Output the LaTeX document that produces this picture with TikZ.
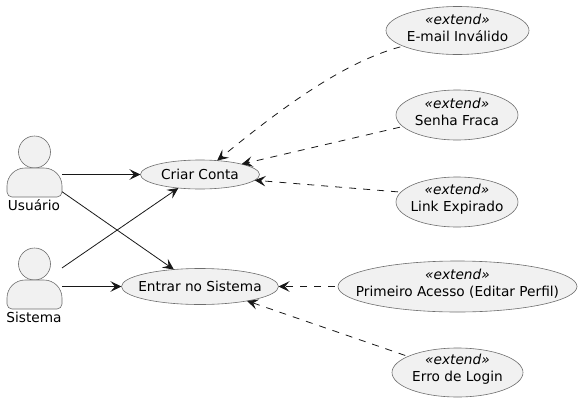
\documentclass[tikz,border=0pt]{standalone}
\usepackage{fontspec}
\setmainfont{DejaVu Sans}
\usetikzlibrary{arrows.meta,shapes.geometric}

\definecolor{casefill}{HTML}{F1F1F1}
\definecolor{caseline}{HTML}{6E6E6E}
\definecolor{linkline}{HTML}{181818}

\tikzset{
  usecase/.style={draw=caseline,fill=casefill,shape=ellipse,inner sep=0pt,outer sep=0pt,line width=0.6pt},
  casetext/.style={inner sep=0pt,align=center,font=\fontsize{13.7}{17}\selectfont},
  extendtext/.style={casetext,yshift=3pt},
  actorbox/.style={shape=rectangle,minimum width=55pt,minimum height=76pt,inner sep=0pt,outer sep=0pt},
  actorpart/.style={draw=caseline,fill=casefill,line width=0.6pt},
  opentip/.style={-{Stealth[length=11pt,width=10.5pt,inset=4.5pt]}},
  solidlink/.style={opentip,color=linkline,line width=0.8pt},
  extendlink/.style={opentip,color=linkline,line width=0.8pt,dash pattern=on 7pt off 7pt,shorten <=3pt}
}

\newcommand{\stereo}{\textit{«extend»}}

\begin{document}
\begin{tikzpicture}[x=1pt,y=-1pt]
\useasboundingbox (0,0) rectangle (581,402);

% actors
\path (34.5,174.5) node[actorbox] (Usr) {};
\path (34.5,152) node[actorpart,shape=circle,minimum size=32pt,inner sep=0pt] (UsrHead) {};
\path[actorpart] (34.5,197) [rounded corners=5pt] -- (7,197) [rounded corners=18pt] -- (7,168) -- (62,168) [rounded corners=5pt] -- (62,197) -- cycle;
\path (34,205) node[casetext] (UsrName) {Usuário};

\path (34.5,286.5) node[actorbox] (Sis) {};
\path (34.5,264) node[actorpart,shape=circle,minimum size=32pt,inner sep=0pt] (SisHead) {};
\path[actorpart] (34.5,309) [rounded corners=5pt] -- (7,309) [rounded corners=18pt] -- (7,280) -- (62,280) [rounded corners=5pt] -- (62,309) -- cycle;
\path (34,317) node[casetext] (SisName) {Sistema};

% use cases
\path (200,174.5) node[usecase,minimum width=119pt,minimum height=29pt] (Criar) {} node[casetext] (CriarText) {Criar Conta};
\path (200,286.5) node[usecase,minimum width=157pt,minimum height=36pt] (Entrar) {} node[casetext] (EntrarText) {Entrar no Sistema};

% extensions
\path (457.5,30.5) node[usecase,minimum width=143pt,minimum height=48pt] (Email) {} node[extendtext] (EmailText) {\stereo\\E-mail Inválido};
\path (457,115) node[usecase,minimum width=122pt,minimum height=50pt] (Senha) {} node[extendtext] (SenhaText) {\stereo\\Senha Fraca};
\path (457,202) node[usecase,minimum width=122pt,minimum height=50pt] (Link) {} node[extendtext] (LinkText) {\stereo\\Link Expirado};
\path (457.5,286.5) node[usecase,minimum width=239pt,minimum height=51pt] (Primeiro) {} node[extendtext] (PrimeiroText) {\stereo\\Primeiro Acesso (Editar Perfil)};
\path (457.5,372.5) node[usecase,minimum width=131pt,minimum height=49pt] (Erro) {} node[extendtext] (ErroText) {\stereo\\Erro de Login};

\path[solidlink] (Usr.east) edge (Criar.west);
\path[solidlink] (Usr.-32.5) edge (Entrar.147);
\path[solidlink] (Sis.34) edge (Criar.212.5);
\path[solidlink] (Sis.east) edge (Entrar.west);

\draw[extendlink] (Email.196) .. controls (345,62) and (285,105) .. (Criar.39.5);
\path[extendlink] (Senha.192.5) edge (Criar.14);
\path[extendlink] (Link.170) edge (Criar.-6);
\path[extendlink] (Primeiro.west) edge (Entrar.east);
\path[extendlink] (Erro.162.5) edge (Entrar.-17);
\end{tikzpicture}
\end{document}
